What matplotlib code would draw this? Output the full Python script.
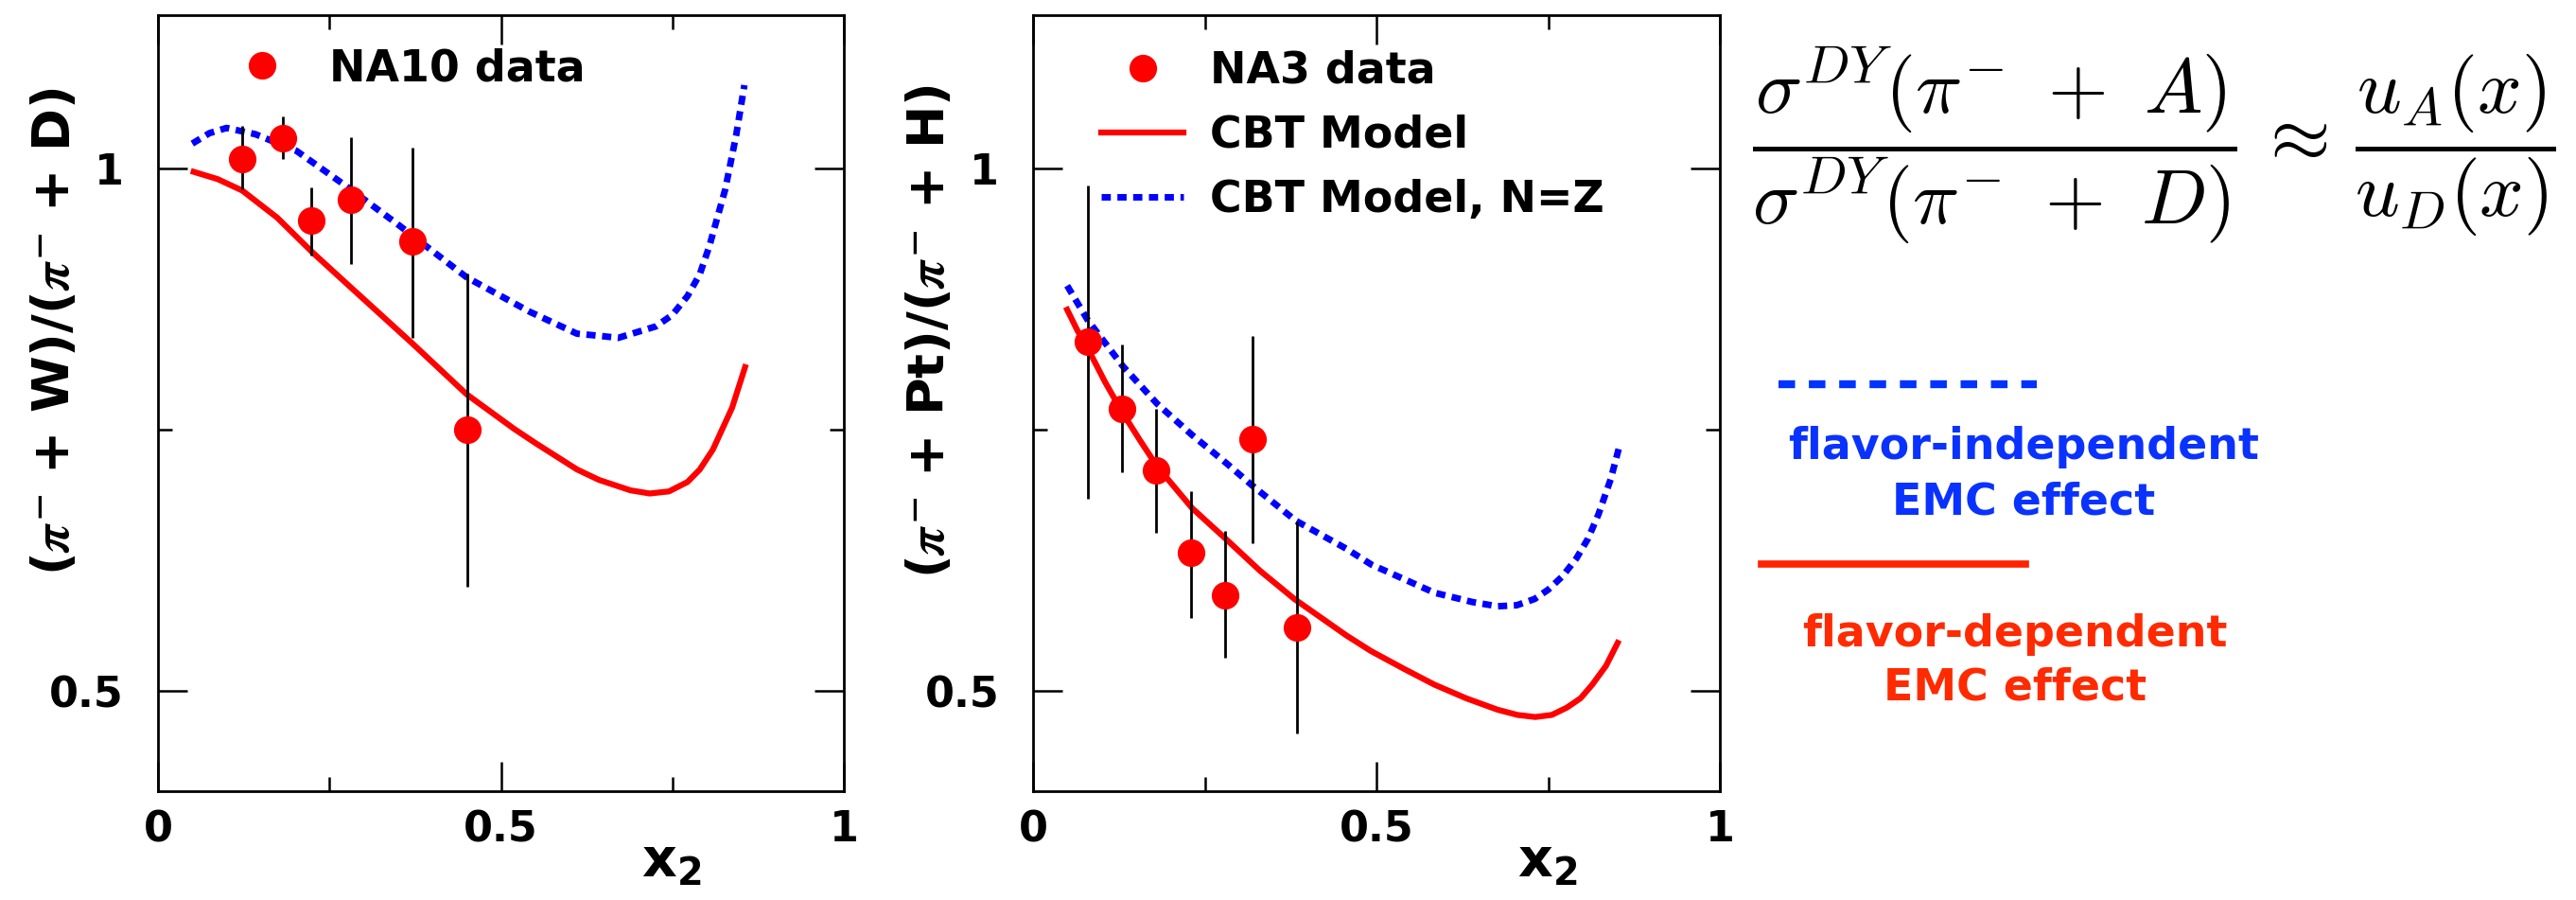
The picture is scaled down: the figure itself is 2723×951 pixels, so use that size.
import numpy as np
import matplotlib.pyplot as plt
from matplotlib.ticker import MultipleLocator, FixedLocator
from matplotlib.lines import Line2D

# NA10 data, pi- + W / pi- + D
na10_x = [0.123, 0.182, 0.223, 0.281, 0.371, 0.451]
na10_y = [1.009, 1.029, 0.950, 0.970, 0.930, 0.750]
na10_lo = [0.980, 1.009, 0.917, 0.909, 0.838, 0.600]
na10_hi = [1.041, 1.050, 0.982, 1.030, 1.020, 0.900]

# CBT model curves, panel 1
cbt_w_x = [0.052, 0.087, 0.123, 0.174, 0.225, 0.280, 0.372, 0.450, 0.519, 0.551,
           0.611, 0.643, 0.689, 0.717, 0.745, 0.772, 0.790, 0.809, 0.823, 0.837, 0.856]
cbt_w_y = [0.997, 0.990, 0.979, 0.953, 0.920, 0.887, 0.832, 0.784, 0.751, 0.737,
           0.712, 0.702, 0.692, 0.689, 0.691, 0.700, 0.712, 0.731, 0.751, 0.771, 0.810]
nz_w_x = [0.050, 0.075, 0.100, 0.142, 0.202, 0.275, 0.349, 0.450, 0.542, 0.611,
          0.643, 0.671, 0.726, 0.750, 0.772, 0.790, 0.804, 0.827, 0.843, 0.855]
nz_w_y = [1.024, 1.034, 1.039, 1.033, 1.017, 0.983, 0.947, 0.896, 0.863, 0.842,
          0.840, 0.838, 0.849, 0.860, 0.878, 0.899, 0.926, 0.980, 1.032, 1.080]

# NA3 data, pi- + Pt / pi- + H
na3_x = [0.079, 0.129, 0.179, 0.229, 0.279, 0.319, 0.384]
na3_y = [0.834, 0.770, 0.711, 0.632, 0.592, 0.741, 0.561]
na3_lo = [0.684, 0.709, 0.651, 0.570, 0.532, 0.641, 0.459]
na3_hi = [0.984, 0.832, 0.770, 0.691, 0.653, 0.840, 0.662]

# CBT model curves, panel 2
cbt_pt_x = [0.049, 0.064, 0.079, 0.104, 0.130, 0.155, 0.180, 0.231, 0.281, 0.330,
            0.380, 0.456, 0.492, 0.540, 0.584, 0.630, 0.676, 0.705, 0.731, 0.755,
            0.777, 0.797, 0.814, 0.834, 0.851]
cbt_pt_y = [0.865, 0.845, 0.828, 0.796, 0.766, 0.740, 0.715, 0.675, 0.645, 0.615,
            0.588, 0.553, 0.538, 0.521, 0.506, 0.493, 0.482, 0.477, 0.475, 0.477,
            0.484, 0.493, 0.506, 0.524, 0.546]
nz_pt_x = [0.049, 0.079, 0.130, 0.180, 0.231, 0.281, 0.318, 0.382, 0.456, 0.492,
           0.584, 0.640, 0.676, 0.704, 0.730, 0.750, 0.771, 0.791, 0.808, 0.823,
           0.841, 0.853]
nz_pt_y = [0.888, 0.855, 0.811, 0.775, 0.745, 0.718, 0.697, 0.663, 0.636, 0.621,
           0.594, 0.585, 0.581, 0.582, 0.588, 0.597, 0.610, 0.627, 0.646, 0.669,
           0.703, 0.733]

RED = '#ff0000'
BLUE = '#0000ff'

plt.rcParams['font.family'] = 'DejaVu Sans'
plt.rcParams['font.weight'] = 'bold'

fig = plt.figure(figsize=(27.23, 9.51), dpi=100)
ax1 = fig.add_axes([0.06133, 0.12093, 0.26625, 0.86225])
ax2 = fig.add_axes([0.40121, 0.12093, 0.26647, 0.86225])


def style(ax, ylab):
    ax.set_xlim(0, 1)
    ax.set_ylim(0.404, 1.147)
    ax.xaxis.set_major_locator(FixedLocator([0, 0.5, 1]))
    ax.xaxis.set_minor_locator(FixedLocator([0.25, 0.75]))
    ax.yaxis.set_major_locator(MultipleLocator(0.5))
    ax.yaxis.set_minor_locator(MultipleLocator(0.25))
    ax.xaxis.set_major_formatter(plt.FuncFormatter(lambda v, p: '%g' % v))
    ax.yaxis.set_major_formatter(plt.FuncFormatter(lambda v, p: '%g' % v))
    ax.tick_params(which='both', direction='in', top=True, right=True, width=1.8,
                   labelsize=32)
    ax.tick_params(which='major', length=22)
    ax.tick_params(which='minor', length=11)
    ax.tick_params(axis='x', pad=14)
    ax.tick_params(axis='y', pad=26)
    for s in ax.spines.values():
        s.set_linewidth(2)
    ax.set_ylabel(ylab, fontsize=39, fontweight='bold', math_fontfamily='stix')
    ax.yaxis.set_label_coords(-0.115, 0.592)
    ax.text(0.705, -0.111, r'$\mathbf{x_2}$', transform=ax.transAxes,
            fontsize=41, ha='left', va='baseline')


style(ax1, r'($\pi^{-}$ + W)/($\pi^{-}$ + D)')
style(ax2, r'($\pi^{-}$ + Pt)/($\pi^{-}$ + H)')

# panel 1
ax1.plot(cbt_w_x, cbt_w_y, color=RED, lw=4.5)
ax1.plot(nz_w_x, nz_w_y, color=BLUE, lw=5, linestyle=(0, (1.4, 1.0)))
err1 = [np.array(na10_y) - np.array(na10_lo), np.array(na10_hi) - np.array(na10_y)]
ax1.errorbar(na10_x, na10_y, yerr=err1, fmt='none', ecolor='black', elinewidth=2)
ax1.plot(na10_x, na10_y, 'o', color=RED, ms=20, label='NA10 data')
ax1.legend(loc='upper left', bbox_to_anchor=(0.092, 0.958), frameon=False,
           handlelength=1.9, handletextpad=0.6, borderpad=0,
           borderaxespad=0, prop={'weight': 'bold', 'size': 33})

# panel 2
l1, = ax2.plot(cbt_pt_x, cbt_pt_y, color=RED, lw=4.5, label='CBT Model')
l2, = ax2.plot(nz_pt_x, nz_pt_y, color=BLUE, lw=5, linestyle=(0, (1.4, 1.0)),
               label='CBT Model, N=Z')
err2 = [np.array(na3_y) - np.array(na3_lo), np.array(na3_hi) - np.array(na3_y)]
ax2.errorbar(na3_x, na3_y, yerr=err2, fmt='none', ecolor='black', elinewidth=2)
m2, = ax2.plot(na3_x, na3_y, 'o', color=RED, ms=20, label='NA3 data')
ax2.legend(handles=[m2, l1, l2], loc='upper left', bbox_to_anchor=(0.0985, 0.955),
           frameon=False, handlelength=1.9, handletextpad=0.6, borderpad=0,
           borderaxespad=0, labelspacing=0.5, prop={'weight': 'bold', 'size': 33})

# formula
fig.text(1852 / 2723, 0.838,
         r'$\dfrac{\sigma^{DY}(\pi^{-}\ +\ A)}{\sigma^{DY}(\pi^{-}\ +\ D)}\,\approx\,\dfrac{u_A(x)}{u_D(x)}$',
         fontsize=59, ha='left', va='center', math_fontfamily='cm')

# right-side key
fig.add_artist(Line2D([1879.5 / 2723, 2153 / 2723], [1 - 406 / 951, 1 - 406 / 951],
                      color='#0033ff', lw=6, linestyle=(0, (2.1, 1.75))))
fig.text(2139 / 2723, 1 - 485 / 951, 'flavor-independent', color='#0a32ff',
         fontsize=33, fontweight='bold', ha='center', va='baseline')
fig.text(2139 / 2723, 1 - 543 / 951, 'EMC effect', color='#0a32ff',
         fontsize=33, fontweight='bold', ha='center', va='baseline')
fig.add_artist(Line2D([1862 / 2723, 2141 / 2723], [1 - 596 / 951, 1 - 596 / 951],
                      color='#ff2200', lw=5.5))
fig.text(2130 / 2723, 1 - 683 / 951, 'flavor-dependent', color='#ff2a00',
         fontsize=33, fontweight='bold', ha='center', va='baseline')
fig.text(2130 / 2723, 1 - 739 / 951, 'EMC effect', color='#ff2a00',
         fontsize=33, fontweight='bold', ha='center', va='baseline')

fig.savefig('out.png', dpi=100)
